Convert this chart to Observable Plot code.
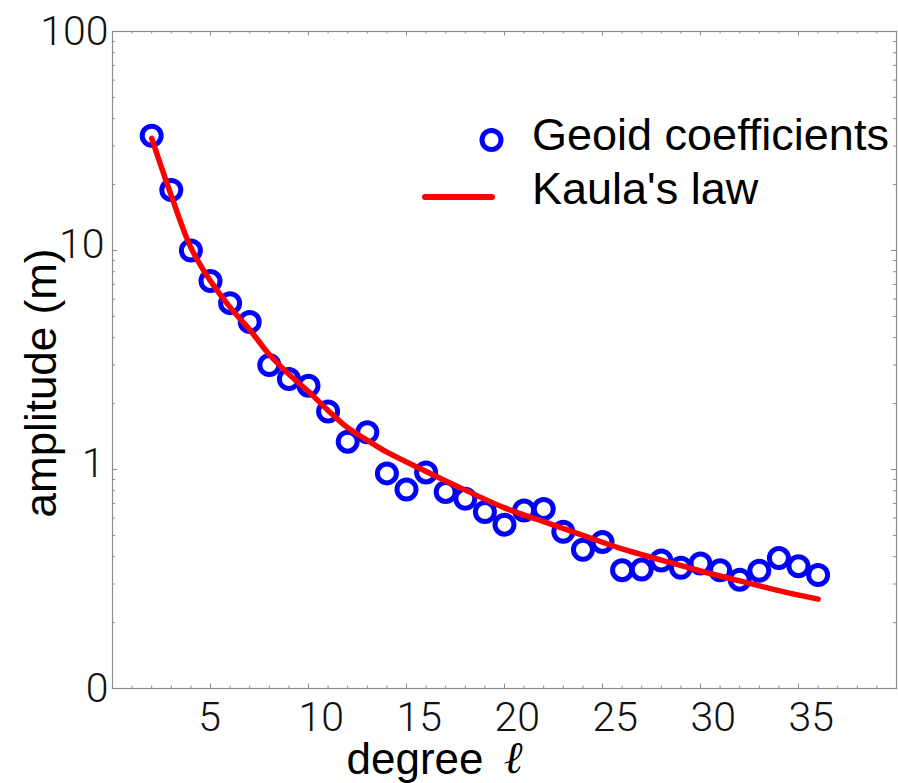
<!DOCTYPE html>
<html>
<head>
<meta charset="utf-8">
<script src="https://cdn.jsdelivr.net/npm/d3@7"></script>
<script src="https://cdn.jsdelivr.net/npm/@observablehq/plot@0.6"></script>
<style>
  html, body { margin: 0; padding: 0; background: #fff; }
  #chart { width: 898px; height: 783px; }
</style>
</head>
<body>
<div id="chart"></div>
<script>
// ---- data ----
const degrees = d3.range(2, 37); // 2 .. 36
const geoidAmplitude = [
  33.4, 18.9, 10.0, 7.25, 5.75, 4.72, 3.0, 2.59, 2.41, 1.84,
  1.34, 1.48, 0.96, 0.81, 0.97, 0.79, 0.735, 0.64, 0.56, 0.65,
  0.66, 0.52, 0.43, 0.467, 0.347, 0.349, 0.384, 0.356, 0.372, 0.347,
  0.314, 0.345, 0.394, 0.362, 0.33
];
const kaulaDegrees = [2, 3, 4, 5, 6, 7, 8, 9, 10, 11, 12, 13, 14, 16, 18, 20, 22, 24, 26, 28, 30, 32, 34, 36];
const kaulaAmplitude = [32.5, 17.8, 10.3, 7.25, 5.5, 4.35, 3.35, 2.72, 2.27, 1.86, 1.55, 1.36, 1.2, 0.98, 0.805, 0.668, 0.578, 0.5, 0.434, 0.386, 0.344, 0.31, 0.28, 0.256];

const xTickValues = [5, 10, 15, 20, 25, 30, 35];
const xTickLabels = ["5", "10", "15", "20", "25", "30", "35"];
const yTickValues = [100, 10, 1, 0.1];
const yTickLabels = ["100", "10", "1", "0"];
const seriesNames = ["Geoid coefficients", "Kaula's law"];
const xLabel = "degree";
const xLabelSymbol = "ℓ";
const yLabel = "amplitude (m)";

// ---- tables ----
const geoid = degrees.map((l, i) => ({l, a: geoidAmplitude[i]}));
const kaula = kaulaDegrees.map((l, i) => ({l, a: kaulaAmplitude[i]}));
const xTicks = xTickValues.map((v, i) => ({v, t: xTickLabels[i]}));
const yTicks = yTickValues.map((v, i) => ({v, t: yTickLabels[i]}));

// axis tick positions (minor + major)
const xMinor = d3.range(1, 40).filter(v => v % 5 !== 0);
const xMajor = d3.range(5, 40, 5);
const yMajor = [0.1, 1, 10, 100];
const yMinor = [0.1, 1, 10].flatMap(d => d3.range(2, 10).map(k => d * k));

const W = 898, H = 783;
const mL = 112, mR = 2, mT = 31, mB = 95;
const PH = H - mT - mB, PW = W - mL - mR;
const frameColor = "#8c8c8c";
const tickFont = "Roboto, 'Open Sans', sans-serif";
const labelFont = "'Liberation Sans', Arial, Helvetica, sans-serif";

const plot = Plot.plot({
  width: W,
  height: H,
  marginLeft: mL, marginRight: mR, marginTop: mT, marginBottom: mB,
  style: {background: "#fff", overflow: "visible"},
  x: {domain: [0, 40], axis: null},
  y: {type: "log", domain: [0.1, 100], axis: null},
  marks: [
    Plot.frame({stroke: frameColor, strokeWidth: 1.2}),
    // bottom & top ticks
    Plot.tickX(xMinor, {x: d => d, insetTop: PH - 2.5, stroke: frameColor}),
    Plot.tickX(xMajor, {x: d => d, insetTop: PH - 4.5, stroke: frameColor}),
    Plot.tickX(xMinor, {x: d => d, insetBottom: PH - 2.5, stroke: frameColor}),
    Plot.tickX(xMajor, {x: d => d, insetBottom: PH - 4.5, stroke: frameColor}),
    // left & right ticks
    Plot.tickY(yMinor, {y: d => d, insetRight: PW - 3, stroke: frameColor}),
    Plot.tickY(yMajor, {y: d => d, insetRight: PW - 5, stroke: frameColor}),
    Plot.tickY(yMinor, {y: d => d, insetLeft: PW - 3, stroke: frameColor}),
    Plot.tickY(yMajor, {y: d => d, insetLeft: PW - 5, stroke: frameColor}),
    // tick labels
    Plot.text(xTicks.filter(d => d.t.length === 1), {
      x: "v", text: "t", frameAnchor: "bottom", textAnchor: "middle", lineAnchor: "bottom",
      dx: -1, dy: 42, fontSize: 41, fontWeight: 300, fontFamily: tickFont, fill: "#111"
    }),
    Plot.text(xTicks.filter(d => d.t.length > 1), {
      x: "v", text: "t", frameAnchor: "bottom", textAnchor: "start", lineAnchor: "bottom",
      dx: -10, dy: 42, fontSize: 41, fontWeight: 300, fontFamily: tickFont, fill: "#111"
    }),
    Plot.text(yTicks.filter(d => d.v === 10 || d.v === 1), {
      y: "v", text: "t", frameAnchor: "left", textAnchor: "end", lineAnchor: "bottom",
      dx: -8, dy: 7.5, fontSize: 41, fontWeight: 300, fontFamily: tickFont, fill: "#111"
    }),
    Plot.text(yTicks.filter(d => d.v === 100 || d.v === 0.1), {
      y: "v", text: "t", frameAnchor: "left", textAnchor: "end", lineAnchor: "bottom",
      dx: -4, dy: 13, fontSize: 41, fontWeight: 300, fontFamily: tickFont, fill: "#111"
    }),
    // axis labels
    Plot.text([yLabel], {
      text: d => d, frameAnchor: "left", rotate: -90, textAnchor: "middle", lineAnchor: "bottom",
      dx: -57, dy: 23, fontSize: 44, fontFamily: labelFont, fill: "#000"
    }),
    Plot.text([xLabel], {
      text: d => d, frameAnchor: "bottom-left", textAnchor: "start", lineAnchor: "bottom",
      dx: 234, dy: 85, fontSize: 44, fontFamily: labelFont, fill: "#000"
    }),
    Plot.text([xLabelSymbol], {
      text: d => d, frameAnchor: "bottom-left", textAnchor: "start", lineAnchor: "bottom",
      dx: 392, dy: 84, fontSize: 45, fontStyle: "italic", fontWeight: "bold",
      fontFamily: "'DejaVu Serif', serif", fill: "#000"
    }),
    // data
    Plot.dot(geoid, {x: "l", y: "a", r: 9.5, stroke: "#0000ff", strokeWidth: 5, fill: "none"}),
    Plot.line(kaula, {x: "l", y: "a", stroke: "#ff0000", strokeWidth: 5.5, curve: "catmull-rom", strokeLinecap: "round"})
  ]
});

// legend inside the frame (top-right)
const svg = d3.select(plot);
const lg = svg.append("g").attr("text-anchor", "start");
lg.append("circle").attr("cx", 491.5).attr("cy", 140).attr("r", 9.5)
  .attr("fill", "none").attr("stroke", "#0000ff").attr("stroke-width", 5);
lg.append("line").attr("x1", 425).attr("x2", 492).attr("y1", 197).attr("y2", 197)
  .attr("stroke", "#ff0000").attr("stroke-width", 6).attr("stroke-linecap", "round");
lg.selectAll("text.leg").data(seriesNames).join("text")
  .attr("class", "leg")
  .attr("x", 532).attr("y", (d, i) => 150 + i * 54)
  .attr("text-anchor", "start")
  .attr("font-family", labelFont).attr("font-size", 45).attr("fill", "#000")
  .text(d => d);

document.getElementById("chart").appendChild(plot);
</script>
</body>
</html>
